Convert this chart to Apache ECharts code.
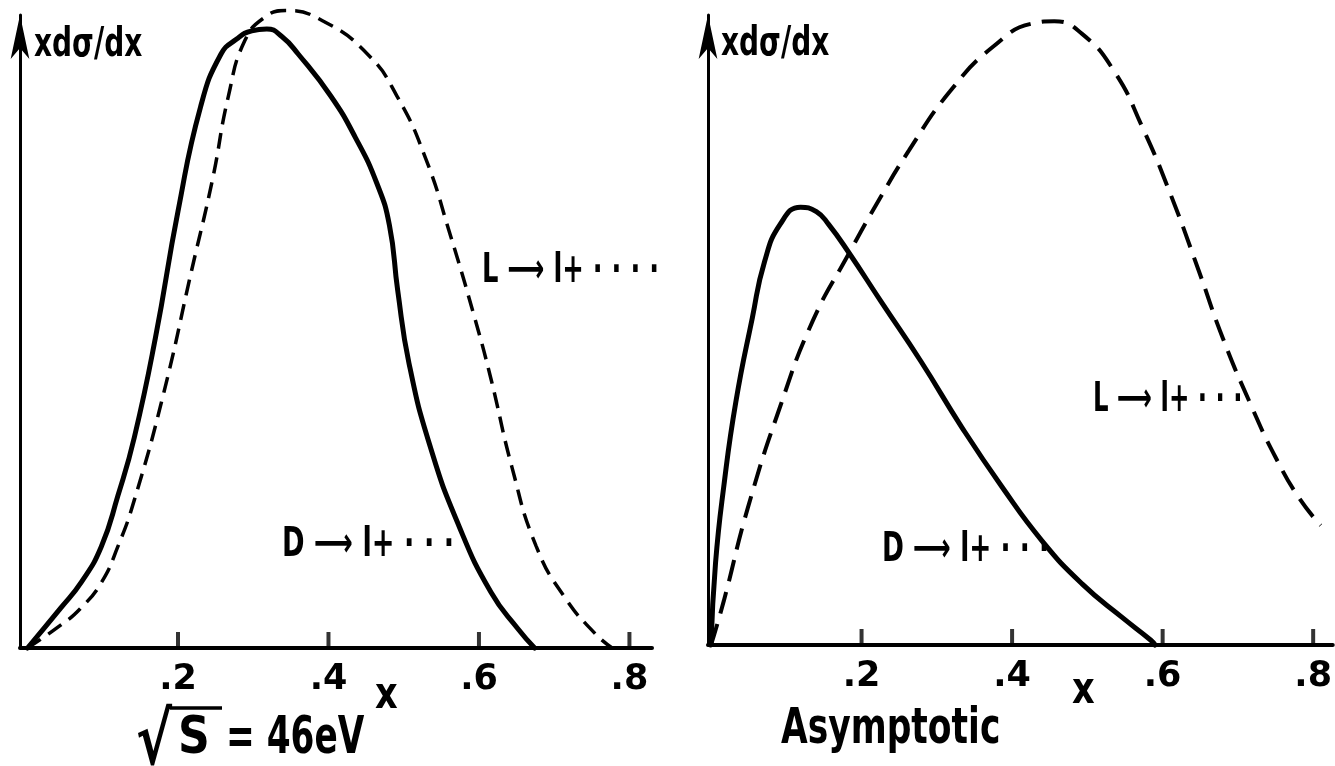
<!DOCTYPE html>
<html>
<head>
<meta charset="utf-8">
<script src="https://cdn.jsdelivr.net/npm/echarts@6/dist/echarts.min.js"></script>
<style>
html,body{margin:0;padding:0;background:#fff;}
#chart{width:1335px;height:766px;}
</style>
</head>
<body>
<div id="chart"></div>
<script>
// ---- data (x = momentum fraction, y = x dσ/dx, arbitrary units, 1 = top of axis) ----
const tickValues = [0.2, 0.4, 0.6, 0.8];
const tickLabels = ['.2', '.4', '.6', '.8'];

// Left panel: sqrt(s) = 46 GeV
const leftD_x = [0, 0.044, 0.072, 0.098, 0.120, 0.142, 0.170, 0.200, 0.230, 0.257, 0.278, 0.298, 0.318, 0.338, 0.360, 0.403, 0.436, 0.464, 0.481, 0.492, 0.507, 0.535, 0.573, 0.616, 0.652, 0.674];
const leftD_y = [0, 0.063, 0.105, 0.160, 0.240, 0.333, 0.490, 0.690, 0.855, 0.938, 0.962, 0.975, 0.978, 0.966, 0.938, 0.872, 0.806, 0.735, 0.668, 0.565, 0.450, 0.319, 0.194, 0.088, 0.030, 0];
const leftL_x = [0, 0.044, 0.070, 0.098, 0.120, 0.142, 0.180, 0.218, 0.246, 0.267, 0.289, 0.316, 0.343, 0.392, 0.452, 0.491, 0.529, 0.561, 0.594, 0.616, 0.644, 0.676, 0.714, 0.755, 0.777];
const leftL_y = [0, 0.036, 0.062, 0.103, 0.160, 0.234, 0.398, 0.596, 0.741, 0.872, 0.960, 0.997, 1.007, 0.991, 0.938, 0.872, 0.774, 0.656, 0.523, 0.425, 0.285, 0.161, 0.080, 0.022, 0];

// Right panel: asymptotic
const rightD_x = [0, 0.006, 0.017, 0.033, 0.055, 0.071, 0.092, 0.119, 0.140, 0.156, 0.183, 0.226, 0.279, 0.333, 0.386, 0.440, 0.493, 0.547, 0.584, 0.590];
const rightD_y = [0, 0.130, 0.252, 0.386, 0.520, 0.608, 0.668, 0.695, 0.688, 0.668, 0.623, 0.545, 0.450, 0.346, 0.252, 0.165, 0.097, 0.043, 0.008, 0];
const rightL_x = [0, 0.017, 0.049, 0.092, 0.135, 0.183, 0.220, 0.263, 0.317, 0.375, 0.429, 0.456, 0.493, 0.536, 0.573, 0.611, 0.648, 0.680, 0.718, 0.750, 0.782, 0.810];
const rightL_y = [0, 0.070, 0.218, 0.379, 0.514, 0.621, 0.700, 0.785, 0.878, 0.950, 0.987, 0.990, 0.970, 0.910, 0.822, 0.714, 0.594, 0.487, 0.379, 0.298, 0.232, 0.190];

const zip = (xs, ys) => xs.map((x, i) => [x, ys[i]]);

const FONT = '"DejaVu Sans",sans-serif';
const GFONT = 'DejaVu Sans';

function xAxisCfg(gridIndex, min, max) {
  return {
    type: 'value', gridIndex, min, max,
    axisLine: { show: true, onZero: false, lineStyle: { color: '#000', width: 4 } },
    axisTick: { show: false },
    axisLabel: {
      show: true, customValues: tickValues, margin: 14, color: '#000',
      fontFamily: FONT, fontWeight: 'bold', fontSize: 35,
      formatter: v => { const i = tickValues.findIndex(t => Math.abs(t - v) < 1e-6); return i >= 0 ? tickLabels[i] : ''; }
    },
    splitLine: { show: false }
  };
}
function yAxisCfg(gridIndex, offset) {
  return {
    type: 'value', gridIndex, min: 0, max: 1, offset,
    axisLine: { show: true, onZero: false, symbol: ['none', 'arrow'], symbolSize: [14, 44], lineStyle: { color: '#000', width: 3 } },
    axisTick: { show: false }, axisLabel: { show: false }, splitLine: { show: false }
  };
}
function txt(text, x, y, size, sx, weight) {
  return { type: 'text', x, y, scaleX: sx, style: { text, fill: '#000', font: (weight || 'bold') + ' ' + size + 'px "' + GFONT + '"', align: 'left', verticalAlign: 'middle', textAlign: 'left', textVerticalAlign: 'middle' } };
}
function tickSeries(ax) {
  return { type: 'scatter', xAxisIndex: ax, yAxisIndex: ax, data: tickValues.map(v => [v, 0]), symbol: 'rect', symbolSize: [4, 16], symbolOffset: [0, -8], itemStyle: { color: '#000' }, silent: true, clip: false, z: 3 };
}

const chart = echarts.init(document.getElementById('chart'), null, { renderer: 'canvas' });
chart.setOption({
  backgroundColor: '#fff',
  animation: false,
  grid: [
    { left: 20, top: 15, width: 632, height: 633 },
    { left: 708, top: 15, width: 627, height: 630 }
  ],
  xAxis: [xAxisCfg(0, -0.01, 0.83), xAxisCfg(1, -0.004, 0.826)],
  yAxis: [yAxisCfg(0, 0), yAxisCfg(1, 0)],
  series: [
    { type: 'line', xAxisIndex: 0, yAxisIndex: 0, data: zip(leftD_x, leftD_y), smooth: 0.5, showSymbol: false, clip: false,
      lineStyle: { color: '#000', width: 5, cap: 'round' } },
    { type: 'line', xAxisIndex: 0, yAxisIndex: 0, data: zip(leftL_x, leftL_y), smooth: 0.5, showSymbol: false, clip: false,
      lineStyle: { color: '#000', width: 3.5, type: [16, 9] } },
    { type: 'line', xAxisIndex: 1, yAxisIndex: 1, data: zip(rightD_x, rightD_y), smooth: 0.5, showSymbol: false, clip: false,
      lineStyle: { color: '#000', width: 5, cap: 'round' } },
    { type: 'line', xAxisIndex: 1, yAxisIndex: 1, data: zip(rightL_x, rightL_y), smooth: 0.5, showSymbol: false, clip: false,
      lineStyle: { color: '#000', width: 4, type: [22, 11] } },
    tickSeries(0), tickSeries(1)
  ],
  graphic: [
    txt('xdσ/dx', 34, 46, 40, 0.7),
    txt('xdσ/dx', 721, 45, 40, 0.7),
    txt('L ⟶ l+ · · · ·', 482, 272, 40, 0.645),
    txt('D ⟶ l+ · · ·', 282, 546, 40, 0.68),
    txt('L ⟶ l+ · · ·', 1093, 401, 40, 0.61),
    txt('D ⟶ l+ · · ·', 882, 551, 40, 0.66),
    txt('x', 375, 697, 44, 0.8),
    txt('x', 1072, 692, 44, 0.8),
    txt('√', 136, 745, 72, 0.75),
    txt('S', 178, 739, 52, 0.85),
    txt('= 46eV', 226, 739, 52, 0.66),
    { type: 'line', shape: { x1: 170, y1: 708, x2: 222, y2: 708 }, style: { stroke: '#000', lineWidth: 3.5 } },
    txt('Asymptotic', 781, 730, 50, 0.69)
  ]
});
</script>
</body>
</html>
